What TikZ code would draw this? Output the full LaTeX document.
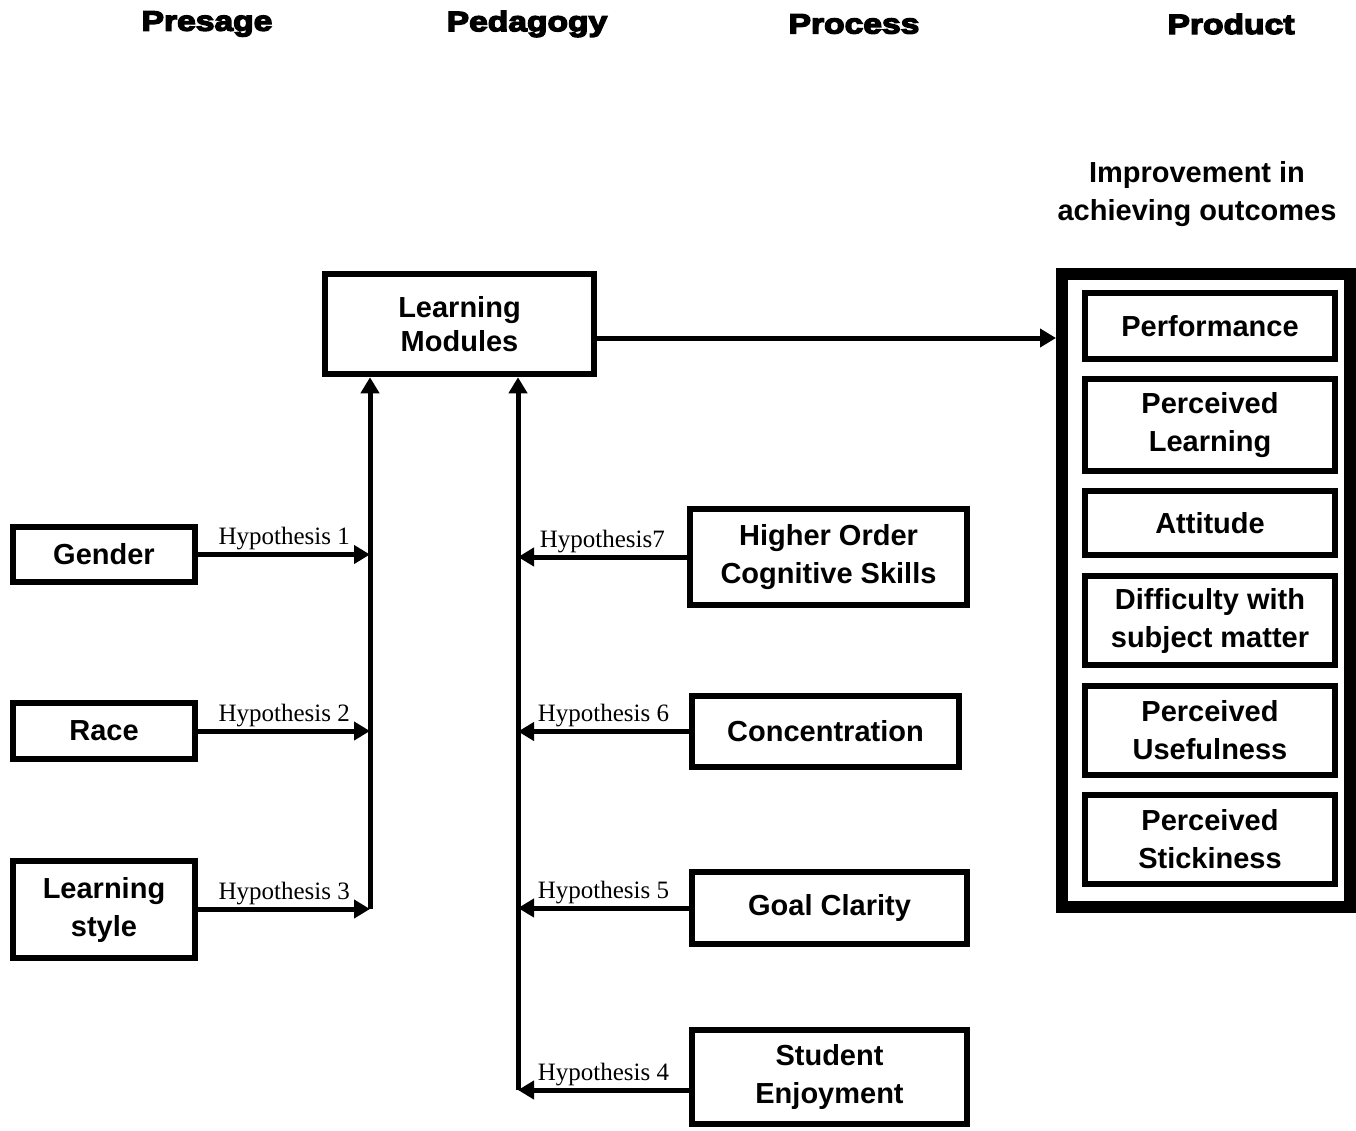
\documentclass[tikz,border=0pt]{standalone}
\usepackage{fontspec}
\setmainfont{Liberation Sans}
\newfontfamily\hypfont{Liberation Serif}
\newfontfamily\headfont{Liberation Sans Bold}[FakeBold=5,FakeStretch=1.2]
\usetikzlibrary{arrows.meta}

\begin{document}
\begin{tikzpicture}[x=1pt, y=-1pt,
  factor/.style={draw, line width=6.5pt, align=center, inner sep=0pt,
                 font=\fontsize{29}{38}\selectfont\bfseries},
  outcome/.style={factor, minimum width=250},
  link/.style={line width=5pt, -{Triangle[length=16pt,width=18pt]}},
  hyp/.style={above, inner sep=2pt, font=\hypfont\fontsize{25}{30}\selectfont},
  head/.style={font=\headfont\fontsize{28}{30}\selectfont}
]
\useasboundingbox (0,0) rectangle (1356,1130);

\node[head] (hpresage) at (207,24) {Presage};
\node[head] (hpedagogy) at (527,24) {Pedagogy};
\node[head] (hprocess) at (854,24) {Process};
\node[head] (hproduct) at (1231,24) {Product};

\node[factor, minimum width=269, minimum height=100,
      font=\fontsize{29}{34}\selectfont\bfseries] (lm) at (459.5,324)
  {Learning\\Modules};

\node[factor, minimum width=182, minimum height=55] (gender) at (104,554.5) {Gender};
\node[factor, minimum width=182, minimum height=56] (race) at (104,731) {Race};
\node[factor, minimum width=182, minimum height=97] (lstyle) at (104,909.5) {Learning\\style};

\node[factor, minimum width=277, minimum height=96] (hocs) at (828.5,557) {Higher Order\\Cognitive Skills};
\node[factor, minimum width=267, minimum height=71] (conc) at (825.5,731.5) {Concentration};
\node[factor, minimum width=275, minimum height=72] (goal) at (829.5,908) {Goal Clarity};
\node[factor, minimum width=275, minimum height=94] (enjoy) at (829.5,1077) {Student\\Enjoyment};

\node[align=center, font=\fontsize{29}{38}\selectfont\bfseries] (improve) at (1197,194)
  {Improvement in\\achieving outcomes};
\node[draw, line width=12pt, minimum width=288, minimum height=633] (prod) at (1206,590.5) {};
\node[outcome, minimum height=66] (perf) at (1210,326) {Performance};
\node[outcome, minimum height=92] (plearn) at (1210,425) {Perceived\\Learning};
\node[outcome, minimum height=64] (att) at (1210,523) {Attitude};
\node[outcome, minimum height=89] (diff) at (1210,620.5) {Difficulty with\\subject matter};
\node[outcome, minimum height=89] (puse) at (1210,730.5) {Perceived\\Usefulness};
\node[outcome, minimum height=89] (pstick) at (1210,839.5) {Perceived\\Stickiness};

\coordinate (lb) at (370,909);
\coordinate (rb) at (518,1090);

\draw[link] (lb) -- (lb |- lm.south);
\draw[link] (rb) -- (rb |- lm.south);

\draw[link] (gender.east) -- (lb |- gender.east) node[hyp, midway] {Hypothesis 1};
\draw[link] (race.east) -- (lb |- race.east) node[hyp, midway] {Hypothesis 2};
\draw[link] (lstyle.east |- lb) -- (lb) node[hyp, midway] {Hypothesis 3};

\draw[link] (hocs.west) -- (rb |- hocs.west) node[hyp, midway] {Hypothesis7};
\draw[link] (conc.west) -- (rb |- conc.west) node[hyp, midway] {Hypothesis 6};
\draw[link] (goal.west) -- (rb |- goal.west) node[hyp, midway] {Hypothesis 5};
\draw[link] (enjoy.west |- rb) -- (rb) node[hyp, midway] {Hypothesis 4};

\draw[link] ([yshift=-14pt]lm.east) -- ([yshift=-14pt]lm.east -| prod.west);
\end{tikzpicture}
\end{document}
